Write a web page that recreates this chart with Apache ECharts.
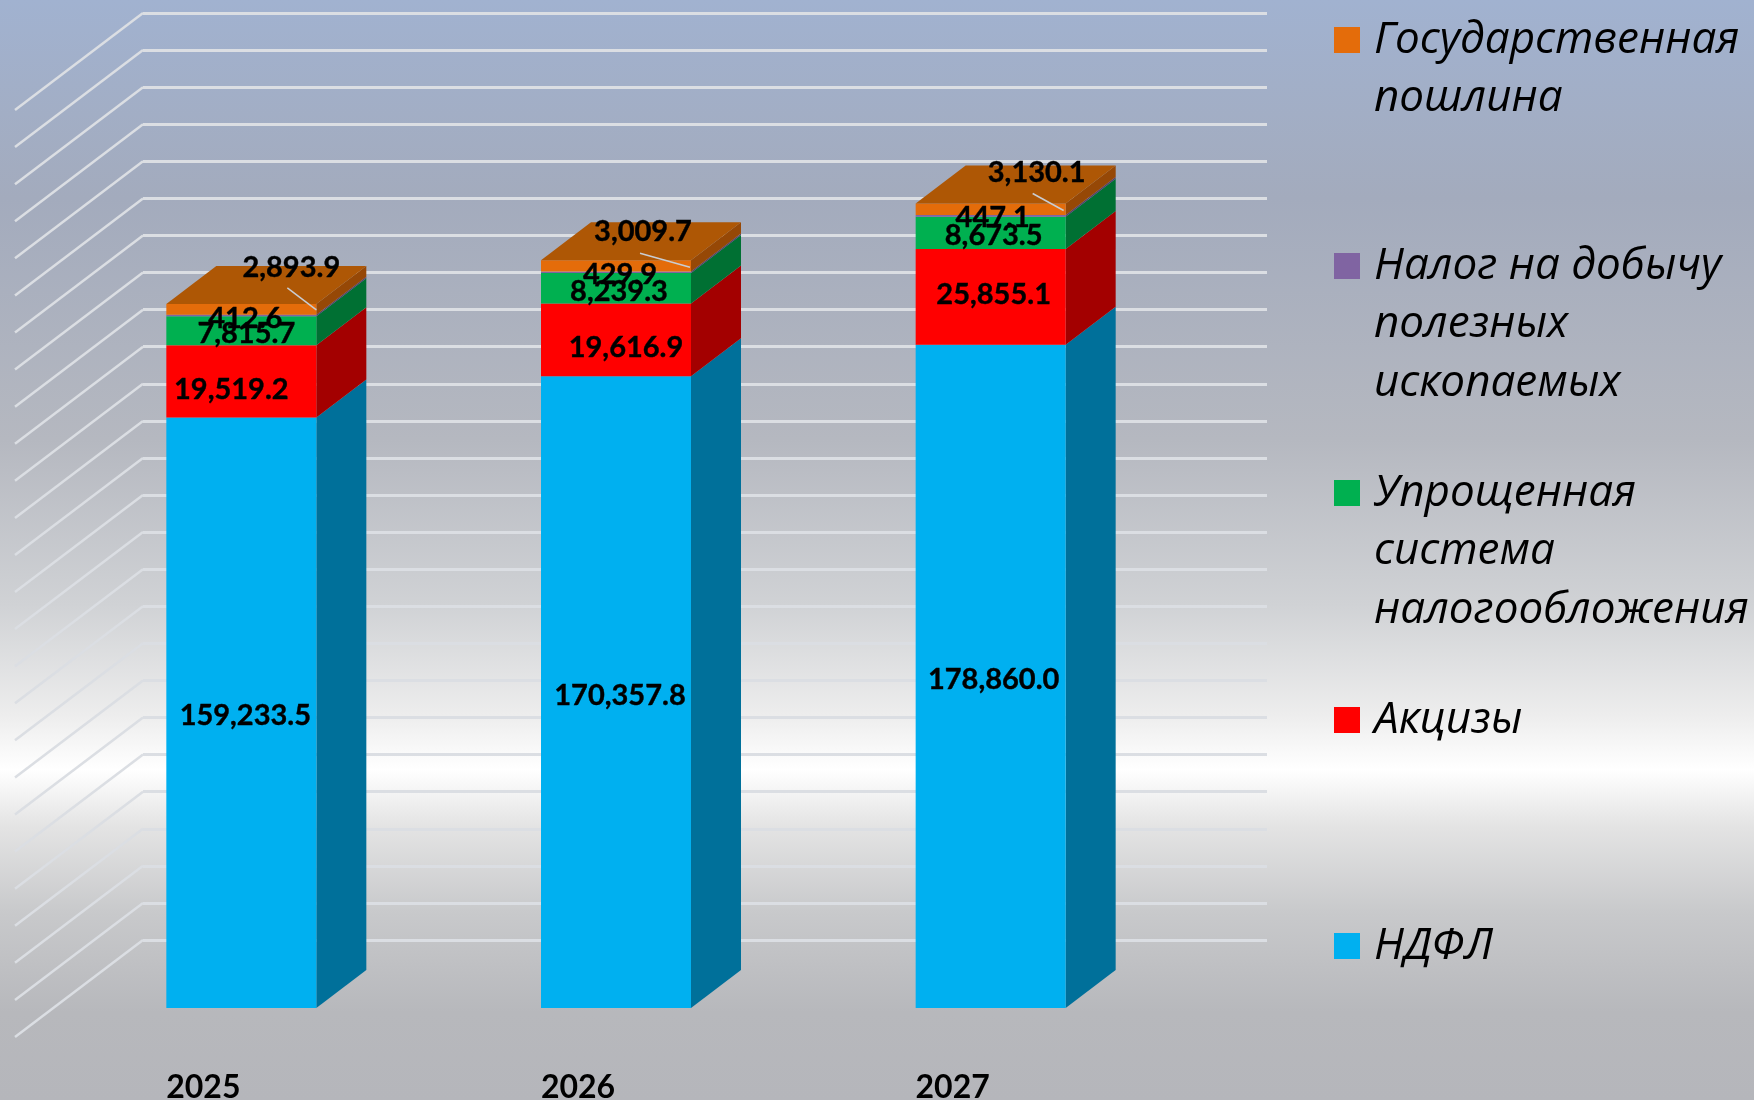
<!DOCTYPE html>
<html>
<head>
<meta charset="utf-8">
<title>chart</title>
<script src="https://cdn.jsdelivr.net/npm/echarts@6/dist/echarts.min.js"></script>
<style>
html, body { margin: 0; padding: 0; }
#main { width: 1754px; height: 1100px; }
</style>
</head>
<body>
<div id="main"></div>
<script>
const years = ['2025', '2026', '2027'];
const ndfl = [159233.5, 170357.8, 178860.0];
const excise = [19519.2, 19616.9, 25855.1];
const simplified = [7815.7, 8239.3, 8673.5];
const mineral = [412.6, 429.9, 447.1];
const duty = [2893.9, 3009.7, 3130.1];
const yTicks = [0, 10000, 20000, 30000, 40000, 50000, 60000, 70000, 80000, 90000, 100000, 110000, 120000,
    130000, 140000, 150000, 160000, 170000, 180000, 190000, 200000, 210000, 220000, 230000, 240000, 250000];

const names = ['НДФЛ', 'Акцизы', 'Упрощенная система налогообложения', 'Налог на добычу полезных ископаемых', 'Государственная пошлина'];
const stack = [ndfl, excise, simplified, mineral, duty];

// front / side colour of every layer
const frontColors = ['#00B0F0', '#FF0000', '#00B050', '#8064A2', '#E46C0A'];
const sideColors = ['#00709A', '#A30000', '#007033', '#52406A', '#964806'];
const topColor = '#AE5705';

// pseudo 3d: wall -> bar front plane, and the depth of the bar
const frontDx = -89, frontDy = 68;
const depthDx = 50, depthDy = -38;
const halfBar = 75;
const floorDx = -128, floorDy = 97;
const font = 'Lato, "Noto Sans", sans-serif';
const gridColor = '#DBDEE3';

// manual label shift from the middle of the segment, [layer][year]
const labelShift = [
    [[4, 3], [4, 3], [3, 3]],
    [[-10, 8], [10, 8], [3, -2]],
    [[5, 3], [3, 3], [3, 3]],
    [[4, 3], [4, 2], [2, 2]],
    [[50, -42], [27, -34], [46, -37]]
];
// leader lines of the top layer, relative to the front right corner
const leaderShift = [[-29, -16, 0, 6], [-51, -7, -1, 7], [-33, -10, -2, 7]];

function fmt(v) {
    return v.toLocaleString('en-US', { minimumFractionDigits: 1, maximumFractionDigits: 1 });
}

function renderLayer(layer) {
    return function (params, api) {
        const i = params.dataIndex;
        let base = 0;
        for (let k = 0; k < layer; k++) base += stack[k][i];
        const value = stack[layer][i];
        const p0 = api.coord([i, base]);
        const p1 = api.coord([i, base + value]);
        const l = p0[0] + frontDx - halfBar, r = p0[0] + frontDx + halfBar;
        const yb = p0[1] + frontDy, yt = p1[1] + frontDy;
        const children = [
            {
                type: 'polygon',
                shape: { points: [[r, yb], [r + depthDx, yb + depthDy], [r + depthDx, yt + depthDy], [r, yt]] },
                style: { fill: sideColors[layer] }
            },
            {
                type: 'rect',
                shape: { x: l, y: yt, width: r - l, height: yb - yt },
                style: { fill: frontColors[layer] }
            }
        ];
        if (layer == stack.length - 1) {
            children.push({
                type: 'polygon',
                shape: { points: [[l, yt], [l + depthDx, yt + depthDy], [r + depthDx, yt + depthDy], [r, yt]] },
                style: { fill: topColor }
            });
            const s = leaderShift[i];
            children.push({
                type: 'line',
                z2: 90,
                shape: { x1: r + s[0], y1: yt + s[1], x2: r + s[2], y2: yt + s[3] },
                style: { stroke: '#C9CDD3', lineWidth: 1.5 }
            });
        }
        const shift = labelShift[layer][i];
        children.push({
            type: 'text',
            z2: 100,
            style: {
                x: p0[0] + frontDx + shift[0],
                y: (yb + yt) / 2 + shift[1],
                text: fmt(value),
                align: 'center',
                verticalAlign: 'middle',
                fill: '#000',
                stroke: '#000',
                lineWidth: 0.4,
                font: 'bold 29px ' + font
            }
        });
        return { type: 'group', children: children };
    };
}

function renderFloor(params, api) {
    const p = api.coord([0, api.value(0)]);
    const x = params.coordSys.x;
    return {
        type: 'line',
        shape: { x1: x, y1: p[1], x2: x + floorDx, y2: p[1] + floorDy },
        style: { stroke: gridColor, lineWidth: 2.5 }
    };
}

var chartDom = document.getElementById('main');
var myChart = echarts.init(chartDom);

let series = [{
    name: 'floor',
    type: 'custom',
    renderItem: renderFloor,
    data: yTicks.map(v => [v]),
    encode: { y: 0 },
    silent: true,
    animation: false,
    clip: false
}];
names.forEach((name, layer) => {
    series.push({
        name: name,
        type: 'custom',
        renderItem: renderLayer(layer),
        data: stack[layer],
        encode: { y: 0 },
        itemStyle: { color: frontColors[layer] },
        animation: false,
        clip: false
    });
});

// one legend per entry; blank lines in front keep the square next to the first text line
const legendMid = [40, 266, 493, 720, 946];
const legendOrder = [4, 3, 2, 1, 0];
const legendLines = [2, 3, 3, 1, 1];
const lineH = 58.5;
const legendFormat = {
    'Государственная пошлина': '\nГосударственная\nпошлина',
    'Налог на добычу полезных ископаемых': '\n\nНалог на добычу\nполезных\nископаемых',
    'Упрощенная система налогообложения': '\n\nУпрощенная\nсистема\nналогообложения',
    'Акцизы': 'Акцизы',
    'НДФЛ': 'НДФЛ'
};

const option = {
    backgroundColor: new echarts.graphic.LinearGradient(0, 0, 0, 1, [
        { offset: 0, color: '#A1B2D0' },
        { offset: 0.18, color: '#A3ABBD' },
        { offset: 0.4, color: '#B5B8C0' },
        { offset: 0.55, color: '#D0D2D5' },
        { offset: 0.65, color: '#EDEDED' },
        { offset: 0.7, color: '#FFFFFF' },
        { offset: 0.75, color: '#E4E4E4' },
        { offset: 0.83, color: '#C8C9CB' },
        { offset: 0.92, color: '#B7B8BC' },
        { offset: 1, color: '#B5B6BB' }
    ]),
    color: frontColors,
    animation: false,
    legend: legendOrder.map((k, n) => ({
        data: [names[k]],
        left: 1334,
        top: legendMid[n] - (2 * legendLines[n] - 1) * lineH / 2,
        padding: 0,
        icon: 'rect',
        itemWidth: 26,
        itemHeight: 26,
        selectedMode: false,
        formatter: function (name) { return legendFormat[name]; },
        textStyle: {
            fontFamily: '"Open Sans", "Noto Sans", sans-serif',
            fontStyle: 'italic',
            fontSize: 44,
            lineHeight: lineH,
            color: '#000',
            padding: [0, 0, 0, 9]
        }
    })),
    grid: { left: 143, top: 13, width: 1124, height: 927, outerBoundsMode: 'none' },
    xAxis: {
        type: 'category',
        data: years,
        axisLine: { show: false },
        axisTick: { show: false },
        axisLabel: {
            margin: 132,
            padding: [0, 254, 0, 0],
            fontFamily: font,
            fontWeight: 'bold',
            fontSize: 32,
            color: '#000'
        }
    },
    yAxis: {
        type: 'value',
        min: 0,
        max: 250000,
        interval: 10000,
        axisLine: { show: false },
        axisTick: { show: false },
        axisLabel: { show: false },
        splitLine: { show: true, lineStyle: { color: gridColor, width: 3 } }
    },
    series: series
};

option && myChart.setOption(option);
</script>
</body>
</html>
